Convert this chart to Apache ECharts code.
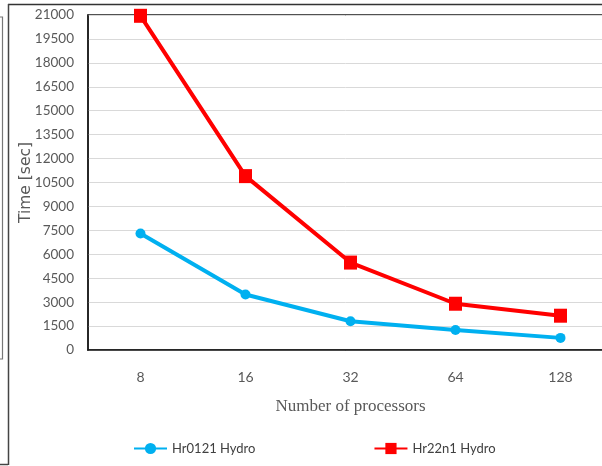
<!DOCTYPE html>
<html>
<head>
<meta charset="utf-8">
<script src="https://cdn.jsdelivr.net/npm/echarts@6/dist/echarts.min.js"></script>
<style>
  html, body { margin: 0; padding: 0; background: #fff; }
  #chart { width: 602px; height: 466px; }
</style>
</head>
<body>
<div id="chart"></div>
<script>
// Run time versus processor count for the two hydro cases
const processors = ['8', '16', '32', '64', '128'];
const hr0121Hydro = [7300, 3480, 1800, 1250, 760];
const hr22n1Hydro = [20950, 10900, 5480, 2900, 2150];
const seriesNames = ['Hr0121 Hydro', 'Hr22n1 Hydro'];

const labelFont = 'Lato, "Open Sans", sans-serif';

const chart = echarts.init(document.getElementById('chart'), null, { renderer: 'canvas' });

chart.setOption({
  animation: false,
  backgroundColor: '#ffffff',
  grid: {
    left: 88, top: 15, width: 525, height: 335,
    show: true, borderColor: '#1a1a1a', borderWidth: 1.5,
    containLabel: false,
    outerBoundsMode: 'none'
  },
  xAxis: {
    type: 'category',
    data: processors,
    boundaryGap: true,
    axisLine: { show: true, lineStyle: { color: '#1a1a1a', width: 1.5 } },
    axisTick: { show: false },
    axisLabel: { color: '#595959', fontFamily: labelFont, fontSize: 14, margin: 20 },
    name: 'Number of processors',
    nameLocation: 'middle',
    nameGap: 48,
    nameMoveOverlap: false,
    nameTextStyle: { color: '#595959', fontFamily: '"Liberation Serif", "Times New Roman", serif', fontSize: 17 }
  },
  yAxis: {
    type: 'value',
    min: 0, max: 21000, interval: 1500,
    axisLine: { show: true, lineStyle: { color: '#1a1a1a', width: 1.5 } },
    axisTick: { show: false },
    splitLine: { show: true, lineStyle: { color: '#d9d9d9', width: 1 } },
    axisLabel: {
      color: '#595959', fontFamily: labelFont, fontSize: 13.5, margin: 14,
      formatter: (v) => String(v)
    },
    name: 'Time [sec]',
    nameLocation: 'middle',
    nameGap: 54,
    nameMoveOverlap: false,
    nameTextStyle: { color: '#595959', fontFamily: '"DejaVu Sans", sans-serif', fontSize: 15.5 }
  },
  legend: {
    left: 133, top: 442, padding: 0,
    itemWidth: 33, itemHeight: 14, itemGap: 118,
    textStyle: { color: '#404040', fontFamily: labelFont, fontSize: 13 },
    data: seriesNames
  },
  series: [
    {
      name: seriesNames[0],
      type: 'line',
      data: hr0121Hydro,
      color: '#00b0f0',
      lineStyle: { width: 4, color: '#00b0f0' },
      symbol: 'circle',
      symbolSize: 10,
      itemStyle: { color: '#00b0f0' }
    },
    {
      name: seriesNames[1],
      type: 'line',
      data: hr22n1Hydro,
      color: '#ff0000',
      lineStyle: { width: 4, color: '#ff0000' },
      symbol: 'rect',
      symbolSize: [13, 14],
      itemStyle: { color: '#ff0000' }
    }
  ],
  graphic: [
    // outer frame edges of the chart area
    { type: 'line', shape: { x1: 8, y1: 4.5, x2: 602, y2: 4.5 }, style: { stroke: '#333', lineWidth: 1.5 } },
    { type: 'line', shape: { x1: 8.5, y1: 4, x2: 8.5, y2: 465 }, style: { stroke: '#444', lineWidth: 1.5 } },
    { type: 'line', shape: { x1: 0, y1: 464.5, x2: 8, y2: 464.5 }, style: { stroke: '#444', lineWidth: 1.5 } },
    // edge of the neighbouring panel on the left
    { type: 'rect', shape: { x: -4, y: 17, width: 6.5, height: 342 }, style: { fill: 'none', stroke: '#777', lineWidth: 1.2 } }
  ]
});
</script>
</body>
</html>
